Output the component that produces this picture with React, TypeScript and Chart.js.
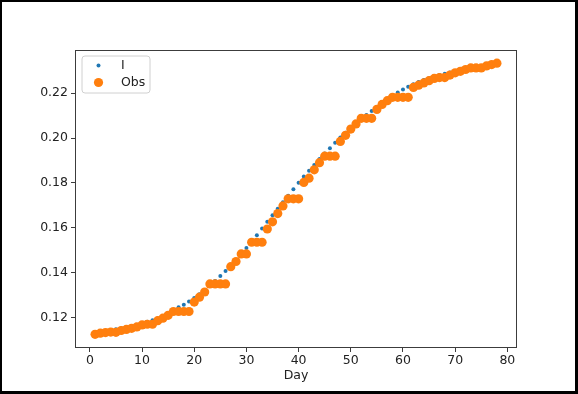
import { useEffect, useRef } from "react";
import { Chart, registerables } from "chart.js";

Chart.register(...registerables);

const days = [
  1, 2, 3, 4, 5, 6, 7, 8, 9, 10, 11, 12, 13, 14, 15, 16, 17, 18, 19, 20,
  21, 22, 23, 24, 25, 26, 27, 28, 29, 30, 31, 32, 33, 34, 35, 36, 37, 38, 39, 40,
  41, 42, 43, 44, 45, 46, 47, 48, 49, 50, 51, 52, 53, 54, 55, 56, 57, 58, 59, 60,
  61, 62, 63, 64, 65, 66, 67, 68, 69, 70, 71, 72, 73, 74, 75, 76, 77, 78,
];

const seriesI = [
  0.1132, 0.1136, 0.1139, 0.1143, 0.1147, 0.1151, 0.1155, 0.116, 0.1166, 0.1173,
  0.118, 0.1187, 0.1195, 0.1204, 0.1216, 0.1231, 0.1245, 0.1256, 0.127, 0.1286,
  0.1303, 0.1321, 0.1341, 0.1362, 0.1384, 0.1407, 0.1431, 0.1456, 0.1482, 0.1509,
  0.1537, 0.1566, 0.1596, 0.1626, 0.1655, 0.1684, 0.1713, 0.1742, 0.1771, 0.18,
  0.1828, 0.1854, 0.188, 0.1906, 0.1931, 0.1955, 0.1979, 0.2002, 0.2024, 0.2045,
  0.2065, 0.2084, 0.2103, 0.2121, 0.2138, 0.2155, 0.2172, 0.2188, 0.2203, 0.2217,
  0.2229, 0.224, 0.225, 0.2259, 0.2267, 0.2274, 0.2281, 0.2287, 0.2293, 0.2298,
  0.2303, 0.2308, 0.2312, 0.2316, 0.232, 0.2324, 0.2327, 0.233,
];

const seriesObs = [
  0.1124, 0.1129, 0.1132, 0.1134, 0.1133, 0.1141, 0.1146, 0.1151, 0.1157, 0.1166,
  0.1169, 0.1169, 0.1185, 0.1196, 0.1209, 0.1226, 0.1226, 0.1226, 0.1226, 0.1268,
  0.129, 0.1313, 0.1349, 0.1349, 0.1349, 0.1349, 0.1426, 0.1449, 0.1483, 0.1483,
  0.1535, 0.1535, 0.1535, 0.1594, 0.1626, 0.1663, 0.1697, 0.1729, 0.1729, 0.1729,
  0.1802, 0.1821, 0.1858, 0.189, 0.1919, 0.1919, 0.1919, 0.1985, 0.2012, 0.204,
  0.2063, 0.2088, 0.2088, 0.2088, 0.2128, 0.215, 0.2167, 0.2182, 0.2182, 0.2182,
  0.2182, 0.2226, 0.2236, 0.2246, 0.2256, 0.2266, 0.227, 0.227, 0.2281, 0.2291,
  0.2298, 0.2306, 0.2313, 0.2313, 0.2313, 0.2322, 0.2328, 0.2334,
];

const xTicks = [0, 10, 20, 30, 40, 50, 60, 70, 80];
const yTicks = [0.12, 0.14, 0.16, 0.18, 0.2, 0.22];

const FONT = "DejaVu Sans";
const BLUE = "#1f77b4";
const ORANGE = "#ff7f0e";

const framePlugin = {
  id: "frameAndLegend",
  afterDraw(chart: any) {
    const { ctx, chartArea: a } = chart;
    ctx.save();
    ctx.strokeStyle = "#3c3c3c";
    ctx.lineWidth = 1;
    ctx.strokeRect(a.left + 0.5, a.top + 0.5, a.right - a.left - 1, a.bottom - a.top - 1);

    const bx = a.left + 7;
    const by = a.top + 6;
    const bw = 68;
    const bh = 37;
    const r = 3;
    ctx.beginPath();
    ctx.moveTo(bx + r, by);
    ctx.lineTo(bx + bw - r, by);
    ctx.quadraticCurveTo(bx + bw, by, bx + bw, by + r);
    ctx.lineTo(bx + bw, by + bh - r);
    ctx.quadraticCurveTo(bx + bw, by + bh, bx + bw - r, by + bh);
    ctx.lineTo(bx + r, by + bh);
    ctx.quadraticCurveTo(bx, by + bh, bx, by + bh - r);
    ctx.lineTo(bx, by + r);
    ctx.quadraticCurveTo(bx, by, bx + r, by);
    ctx.closePath();
    ctx.fillStyle = "rgba(255,255,255,0.8)";
    ctx.fill();
    ctx.strokeStyle = "#d0d0d0";
    ctx.stroke();

    const ds = chart.data.datasets;
    const rows = [by + 9.5, by + 26.5];
    ds.forEach((d: any, i: number) => {
      const y = rows[i];
      ctx.beginPath();
      ctx.arc(bx + 16.5, y, d.pointRadius, 0, Math.PI * 2);
      ctx.fillStyle = d.pointBackgroundColor;
      ctx.fill();
      ctx.fillStyle = "#222";
      ctx.font = `12.5px "${FONT}"`;
      ctx.textAlign = "left";
      ctx.textBaseline = "middle";
      ctx.fillText(d.label, bx + 39, y);
    });
    ctx.restore();
  },
};

export default function App() {
  const ref = useRef<HTMLCanvasElement | null>(null);

  useEffect(() => {
    document.body.style.margin = "0";
    const canvas = ref.current;
    if (!canvas) return;
    const tickFont = { family: FONT, size: 12.5 };
    const chart = new Chart(canvas, {
      type: "scatter",
      data: {
        datasets: [
          {
            label: "I",
            data: days.map((d, i) => ({ x: d, y: seriesI[i] })),
            showLine: false,
            pointRadius: 2,
            pointBackgroundColor: BLUE,
            pointBorderWidth: 0,
            order: 1,
          } as any,
          {
            label: "Obs",
            data: days.map((d, i) => ({ x: d, y: seriesObs[i] })),
            showLine: false,
            pointRadius: 4.6,
            pointBackgroundColor: ORANGE,
            pointBorderWidth: 0,
            order: 0,
          } as any,
        ],
      },
      options: {
        animation: false,
        responsive: false,
        devicePixelRatio: 1,
        events: [],
        layout: { padding: { left: 0, top: 50, right: 61, bottom: 0 } },
        plugins: {
          legend: { display: false },
          tooltip: { enabled: false },
        },
        scales: {
          x: {
            type: "linear",
            min: -2.85,
            max: 81.85,
            afterBuildTicks: (s: any) => {
              s.ticks = xTicks.map((v) => ({ value: v }));
            },
            afterFit: (s: any) => {
              s.height = 46;
            },
            ticks: {
              font: tickFont,
              color: "#222",
              padding: 1,
              maxRotation: 0,
              autoSkip: false,
              callback: (v: any) => String(v),
            },
            grid: {
              display: true,
              drawOnChartArea: false,
              drawTicks: true,
              tickLength: 4,
              color: "#3c3c3c",
              lineWidth: 1,
            },
            border: { display: false },
            title: {
              display: true,
              text: "Day",
              font: tickFont,
              color: "#222",
              padding: { top: 0, bottom: 10.5 },
            },
          },
          y: {
            type: "linear",
            min: 0.1063,
            max: 0.2393,
            afterBuildTicks: (s: any) => {
              s.ticks = yTicks.map((v) => ({ value: v }));
            },
            afterFit: (s: any) => {
              s.width = 75;
            },
            ticks: {
              font: tickFont,
              color: "#222",
              padding: 3,
              autoSkip: false,
              callback: (v: any) => Number(v).toFixed(2),
            },
            grid: {
              display: true,
              drawOnChartArea: false,
              drawTicks: true,
              tickLength: 4,
              color: "#3c3c3c",
              lineWidth: 1,
            },
            border: { display: false },
          },
        },
      } as any,
      plugins: [framePlugin],
    });
    return () => chart.destroy();
  }, []);

  return (
    <div
      style={{
        position: "fixed",
        left: 0,
        top: 0,
        width: 578,
        height: 394,
        background: "#fff",
      }}
    >
      <canvas ref={ref} width={578} height={394} style={{ display: "block" }} />
      <div
        style={{
          position: "absolute",
          left: 0,
          top: 0,
          width: 578,
          height: 394,
          boxSizing: "border-box",
          borderStyle: "solid",
          borderColor: "#000",
          borderWidth: "2px 3px 3px 2px",
          pointerEvents: "none",
        }}
      />
    </div>
  );
}
